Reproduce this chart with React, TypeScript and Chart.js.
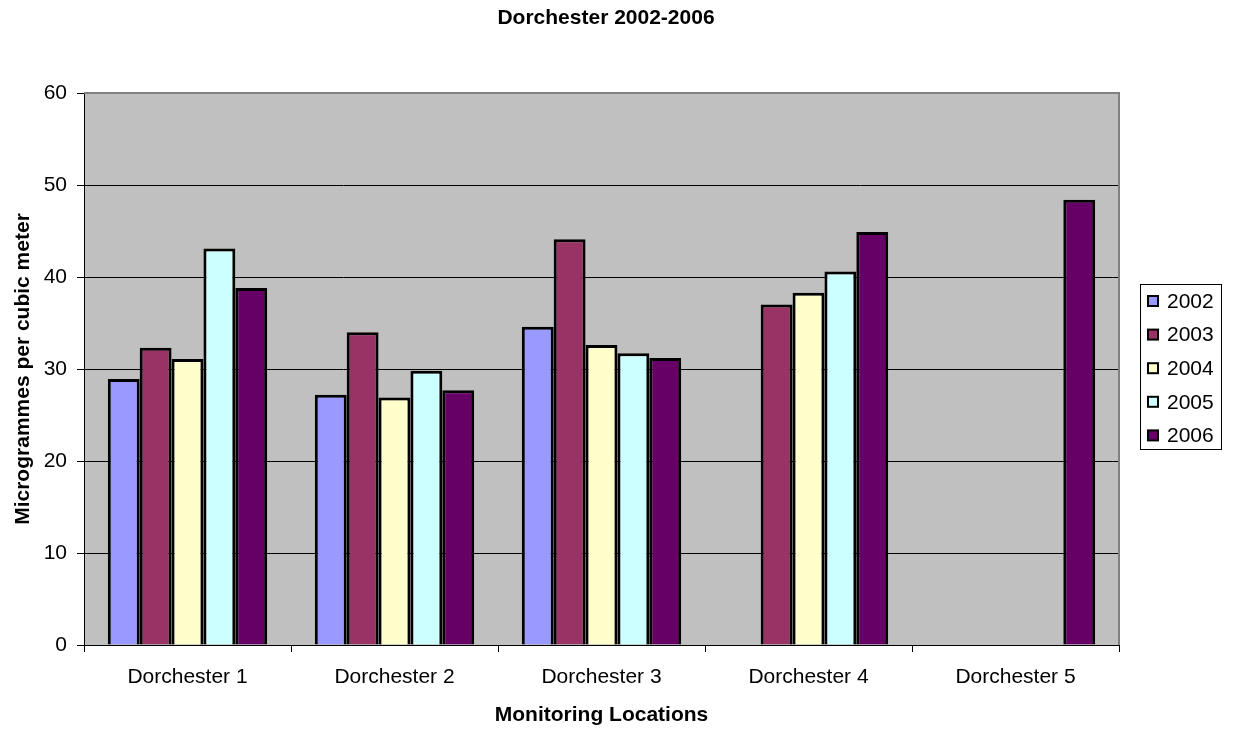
import React, { useEffect, useRef } from "react";
import { Chart, registerables } from "chart.js";

Chart.register(...registerables);

const categories = ["Dorchester 1", "Dorchester 2", "Dorchester 3", "Dorchester 4", "Dorchester 5"];
const seriesNames = ["2002", "2003", "2004", "2005", "2006"];
const values2002 = [28.9, 27.2, 34.6, null, null];
const values2003 = [32.3, 34.0, 44.1, 37.0, null];
const values2004 = [31.1, 26.9, 32.6, 38.3, null];
const values2005 = [43.1, 29.8, 31.7, 40.6, null];
const values2006 = [38.8, 27.7, 31.2, 44.9, 48.4];
const seriesColors = ["#9999FF", "#993366", "#FFFFCC", "#CCFFFF", "#660066"];
const yTicks = [0, 10, 20, 30, 40, 50, 60];

const FONT = "'Liberation Sans', Arial, Helvetica, sans-serif";
const W = 1233;
const H = 729;

export default function App() {
  const ref = useRef<HTMLCanvasElement | null>(null);

  useEffect(() => {
    if (!ref.current) return;
    const allValues = [values2002, values2003, values2004, values2005, values2006];

    const decor = {
      id: "decor",
      beforeDraw(chart: any) {
        const { ctx, chartArea: a } = chart;
        ctx.save();
        ctx.fillStyle = "#ffffff";
        ctx.fillRect(0, 0, chart.width, chart.height);
        ctx.fillStyle = "#C0C0C0";
        ctx.fillRect(a.left, a.top, a.right - a.left, a.bottom - a.top);
        ctx.restore();
      },
      afterDraw(chart: any) {
        const { ctx, chartArea: a } = chart;
        ctx.save();
        // plot border
        ctx.strokeStyle = "#808080";
        ctx.lineWidth = 2;
        ctx.beginPath();
        ctx.moveTo(a.left, a.top);
        ctx.lineTo(a.right, a.top);
        ctx.lineTo(a.right, a.bottom);
        ctx.stroke();
        // title
        ctx.fillStyle = "#000";
        ctx.font = `bold 21px ${FONT}`;
        ctx.textAlign = "center";
        ctx.textBaseline = "middle";
        ctx.fillText("Dorchester 2002-2006", 606, 18);
        // legend
        const lx = 1140.5, ly = 284.5, lw = 81, lh = 165;
        ctx.fillStyle = "#ffffff";
        ctx.fillRect(lx, ly, lw, lh);
        ctx.strokeStyle = "#000";
        ctx.lineWidth = 1;
        ctx.strokeRect(lx, ly, lw, lh);
        ctx.font = `21px ${FONT}`;
        ctx.textAlign = "left";
        seriesNames.forEach((name, i) => {
          const cy = 301 + i * 33.6;
          ctx.fillStyle = seriesColors[i];
          ctx.fillRect(1148, cy - 5, 10, 10);
          ctx.strokeStyle = "#000";
          ctx.lineWidth = 2;
          ctx.strokeRect(1148, cy - 5, 10, 10);
          ctx.fillStyle = "#000";
          ctx.fillText(name, 1167, cy + 1);
        });
        ctx.restore();
      },
    };

    const chart = new Chart(ref.current, {
      type: "bar",
      data: {
        labels: categories,
        datasets: seriesNames.map((name, i) => ({
          label: name,
          data: allValues[i] as any,
          backgroundColor: seriesColors[i],
          borderColor: "#000000",
          borderWidth: 3,
          categoryPercentage: 0.77,
          barPercentage: 1,
        })),
      },
      options: {
        responsive: false,
        animation: false,
        devicePixelRatio: 1,
        layout: { padding: { top: 93, right: 114, bottom: 0, left: 0 } },
        plugins: {
          legend: { display: false },
          title: { display: false },
          tooltip: { enabled: false },
        },
        scales: {
          x: {
            afterFit: (s: any) => {
              s.height = H - 645;
            },
            grid: {
              display: true,
              drawOnChartArea: false,
              drawTicks: true,
              tickLength: 7,
              color: "#000000",
              offset: true,
            },
            border: { display: true, color: "#000000", width: 1 },
            ticks: {
              color: "#000000",
              font: { family: FONT, size: 21 },
              padding: 13,
              maxRotation: 0,
              autoSkip: false,
            },
            title: {
              display: true,
              text: "Monitoring Locations",
              color: "#000000",
              font: { family: FONT, size: 21, weight: "bold" },
              padding: { top: 0, bottom: 1 },
            },
          },
          y: {
            min: 0,
            max: 60,
            afterFit: (s: any) => {
              s.width = 84;
            },
            afterBuildTicks: (s: any) => {
              s.ticks = yTicks.map((v) => ({ value: v }));
            },
            grid: {
              display: true,
              drawTicks: true,
              tickLength: 7,
              color: "#000000",
              lineWidth: 1,
            },
            border: { display: true, color: "#000000", width: 1 },
            ticks: {
              color: "#000000",
              font: { family: FONT, size: 21 },
              padding: 10,
            },
            title: {
              display: true,
              text: "Microgrammes per cubic meter",
              color: "#000000",
              font: { family: FONT, size: 21, weight: "bold" },
              padding: { top: 10.4, bottom: 0 },
            },
          },
        },
      },
      plugins: [decor],
    });
    return () => chart.destroy();
  }, []);

  return (
    <div style={{ position: "absolute", left: 0, top: 0, width: W, height: H }}>
      <canvas ref={ref} width={W} height={H} style={{ display: "block", width: W, height: H }} />
    </div>
  );
}
